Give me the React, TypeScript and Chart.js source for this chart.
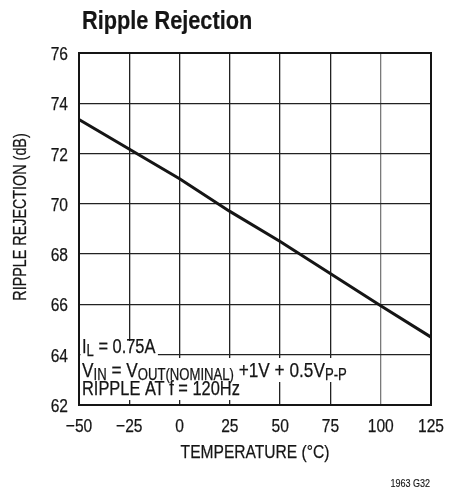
import React, { useEffect, useRef } from 'react';
import { Chart, registerables } from 'chart.js';

Chart.register(...registerables);

// ---- data ----
const temperatures = [-50, 0, 25, 50, 100, 125];
const rejection = [73.35, 71.0, 69.7, 68.5, 65.95, 64.7];
const xTickValues = [-50, -25, 0, 25, 50, 75, 100, 125];
const yTickValues = [62, 64, 66, 68, 70, 72, 74, 76];
const chartTitle = 'Ripple Rejection';
const xAxisTitle = 'TEMPERATURE (°C)';
const yAxisTitle = 'RIPPLE REJECTION (dB)';
const footnote = '1963 G32';
type Seg = { t: string; sub?: boolean };
const noteLines: Seg[][] = [
  [{ t: 'I' }, { t: 'L', sub: true }, { t: ' = 0.75A' }],
  [{ t: 'V' }, { t: 'IN', sub: true }, { t: ' = V' }, { t: 'OUT(NOMINAL)', sub: true }, { t: ' +1V + 0.5V' }, { t: 'P-P', sub: true }],
  [{ t: 'RIPPLE AT f = 120Hz' }],
];

const FONT = "'Liberation Sans', Arial, sans-serif";
const NARROW = 0.82;
const INK = '#151515';

function fmtX(v: number) {
  return v < 0 ? '\u2212' + Math.abs(v) : String(v);
}

function narrowText(
  ctx: CanvasRenderingContext2D,
  text: string,
  x: number,
  y: number,
  size: number,
  align: CanvasTextAlign,
  bold = false,
  rotate = 0,
  thicken = 0.25
) {
  ctx.save();
  ctx.translate(x, y);
  if (rotate) ctx.rotate(rotate);
  ctx.scale(NARROW, 1);
  ctx.font = `${bold ? 'bold ' : ''}${size}px ${FONT}`;
  ctx.textAlign = align;
  ctx.textBaseline = 'alphabetic';
  ctx.fillStyle = INK;
  ctx.fillText(text, 0, 0);
  if (thicken > 0) {
    ctx.strokeStyle = INK;
    ctx.lineWidth = thicken;
    ctx.lineJoin = 'round';
    ctx.strokeText(text, 0, 0);
  }
  ctx.restore();
}

function narrowWidth(ctx: CanvasRenderingContext2D, text: string, size: number) {
  ctx.save();
  ctx.font = `${size}px ${FONT}`;
  const w = ctx.measureText(text).width * NARROW;
  ctx.restore();
  return w;
}

const decorPlugin = {
  id: 'decor',
  beforeDatasetsDraw(chart: any) {
    const { ctx, chartArea } = chart;
    const { left, bottom } = chartArea;
    const baselines = [bottom - 52, bottom - 28, bottom - 10];
    const mainSizes = [20, 21, 20];
    const SUB = 16;
    const SUB_SHIFT = 3;
    let prevBottom = 0;
    noteLines.forEach((line, i) => {
      let w = 0;
      line.forEach((s) => {
        w += narrowWidth(ctx, s.t, s.sub ? SUB : mainSizes[i]);
      });
      const top = i === 0 ? baselines[i] - 12 : prevBottom;
      const bot = baselines[i] + 5;
      prevBottom = bot;
      ctx.save();
      ctx.fillStyle = '#ffffff';
      ctx.fillRect(left + 1.5, top, w + 4, bot - top);
      ctx.restore();
    });
    noteLines.forEach((line, i) => {
      let x = left + 3;
      line.forEach((s) => {
        const size = s.sub ? SUB : mainSizes[i];
        narrowText(ctx, s.t, x, baselines[i] + (s.sub ? SUB_SHIFT : 0), size, 'left');
        x += narrowWidth(ctx, s.t, size);
      });
    });
  },
  afterDatasetsDraw(chart: any) {
    const { ctx, chartArea } = chart;
    ctx.save();
    ctx.strokeStyle = INK;
    ctx.lineWidth = 2;
    ctx.strokeRect(chartArea.left, chartArea.top, chartArea.right - chartArea.left, chartArea.bottom - chartArea.top);
    ctx.restore();
  },
  afterDraw(chart: any) {
    const { ctx, chartArea } = chart;
    const xs = chart.scales.x;
    const ys = chart.scales.y;
    // tick labels
    xTickValues.forEach((v) => {
      narrowText(ctx, fmtX(v), xs.getPixelForValue(v), chartArea.bottom + 27, 19, 'center');
    });
    yTickValues.forEach((v) => {
      narrowText(ctx, String(v), chartArea.left - 11, ys.getPixelForValue(v) + 7, 19, 'right');
    });
    // axis titles
    narrowText(ctx, xAxisTitle, (chartArea.left + chartArea.right) / 2, chartArea.bottom + 53, 19, 'center');
    narrowText(ctx, yAxisTitle, 26, (chartArea.top + chartArea.bottom) / 2 - 12, 17.5, 'center', false, -Math.PI / 2);
    // title and footnote
    narrowText(ctx, chartTitle, 82, 29, 26.5, 'left', true, 0, 0.2);
    narrowText(ctx, footnote, 430, 487, 11, 'right', false, 0, 0.15);
  },
};

export default function App() {
  const ref = useRef<HTMLCanvasElement | null>(null);
  useEffect(() => {
    document.body.style.margin = '0';
    if (!ref.current) return;
    const chart = new Chart(ref.current, {
      type: 'scatter',
      data: {
        datasets: [
          {
            data: temperatures.map((t, i) => ({ x: t, y: rejection[i] })),
            showLine: true,
            borderColor: INK,
            borderWidth: 3,
            pointRadius: 0,
            tension: 0,
          },
        ],
      },
      plugins: [decorPlugin],
      options: {
        animation: false,
        responsive: false,
        maintainAspectRatio: false,
        layout: { padding: { top: 53, right: 25, left: 0, bottom: 20 } },
        plugins: { legend: { display: false }, tooltip: { enabled: false }, title: { display: false } },
        scales: {
          x: {
            type: 'linear',
            min: -50,
            max: 125,
            afterBuildTicks: (s: any) => {
              s.ticks = xTickValues.map((v) => ({ value: v }));
            },
            afterFit: (s: any) => {
              s.height = 64;
            },
            grid: {
              drawTicks: false,
              color: (c: any) => (c.tick && c.tick.value === 100 ? '#7a7a7a' : '#222222'),
              lineWidth: 1.3,
            },
            border: { display: false },
            ticks: { display: false },
            title: { display: false },
          },
          y: {
            type: 'linear',
            min: 62,
            max: 76,
            afterBuildTicks: (s: any) => {
              s.ticks = yTickValues.map((v) => ({ value: v }));
            },
            afterFit: (s: any) => {
              s.width = 79;
            },
            grid: { drawTicks: false, color: '#222222', lineWidth: 1.3 },
            border: { display: false },
            ticks: { display: false },
            title: { display: false },
          },
        },
      },
    });
    return () => chart.destroy();
  }, []);
  return <canvas ref={ref} width={456} height={489} style={{ display: 'block', width: 456, height: 489 }} />;
}
